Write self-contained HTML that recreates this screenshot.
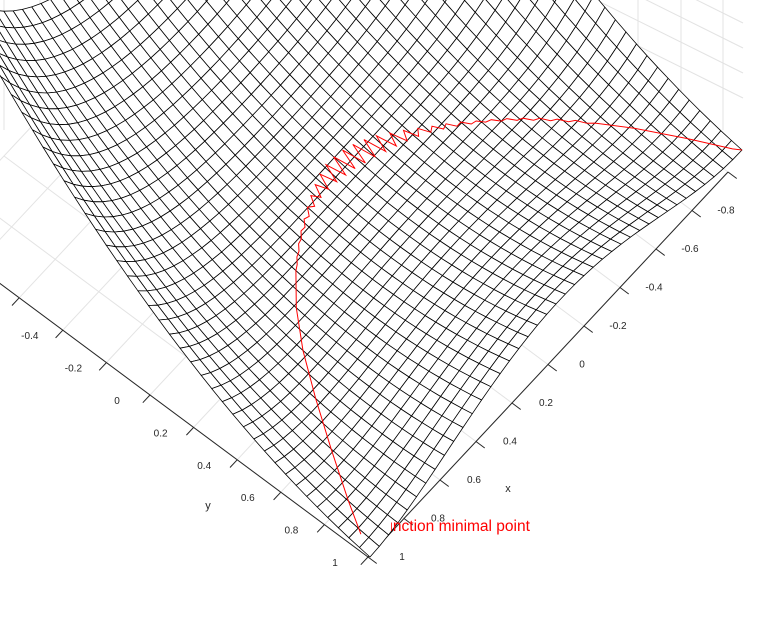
<!DOCTYPE html>
<html><head><meta charset="utf-8"><style>
html,body{margin:0;padding:0;background:#fff;}
svg{display:block;font-family:"Liberation Sans",sans-serif;}
</style></head><body>
<svg id="chart" width="757" height="617" viewBox="0 0 757 617" xmlns="http://www.w3.org/2000/svg">
<defs><clipPath id="txtclip"><rect x="391" y="500" width="300" height="50"/></clipPath></defs>
<g id="bg"></g>
<g id="axes"></g>
<g id="mesh"></g>
<text x="380" y="531" font-size="15.5" fill="#ff0000" clip-path="url(#txtclip)">function minimal point</text>
<g id="pathg"></g>
</svg>
<script>
// ---- data ----
const gridStep = 0.05;
const xTicks = [-1, -0.8, -0.6, -0.4, -0.2, 0, 0.2, 0.4, 0.6, 0.8, 1];
const xTickLabels = ["-1", "-0.8", "-0.6", "-0.4", "-0.2", "0", "0.2", "0.4", "0.6", "0.8", "1"];
const yTicks = [-1, -0.8, -0.6, -0.4, -0.2, 0, 0.2, 0.4, 0.6, 0.8, 1];
const yTickLabels = ["-1", "-0.8", "-0.6", "-0.4", "-0.2", "0", "0.2", "0.4", "0.6", "0.8", "1"];
// descent path: valley parameter t (x = t, y = t^2 + d)
const pathT = [-1.00,-0.98,-0.90,-0.80,-0.72,
 -0.70,-0.68,-0.66,-0.64,-0.62,-0.60,-0.58,-0.56,-0.54,-0.52,-0.50,-0.48,-0.46,-0.44,-0.42,-0.40,
 -0.38,-0.36,-0.34,-0.32,-0.30,-0.28,-0.26,-0.24,-0.22,-0.20,-0.18,-0.16,-0.14,-0.12,-0.10,-0.08,
 -0.06,-0.04,-0.02,0.00,0.02,0.04,0.06,0.08,0.10,0.12,0.14,0.16,0.18,0.20,0.22,0.24,0.26,0.28,
 0.30,0.32,0.34,0.36,0.38,0.40,0.50,0.60,0.70,0.80,0.90,0.96];
const pathD = [0,0.012,0.02,0.025,0.032,
 0.040,0.030,0.042,0.032,0.044,0.034,0.046,0.036,0.048,0.038,0.050,0.040,0.050,0.040,0.052,0.036,
 0.052,0.032,0.052,0.028,0.052,0.020,0.052,0.008,0.052,-0.004,0.052,-0.018,0.050,-0.030,0.046,-0.040,
 0.040,-0.048,0.030,-0.054,0.020,-0.056,0.010,-0.054,0.000,-0.050,-0.010,-0.046,-0.018,-0.042,-0.024,-0.040,-0.028,-0.040,
 -0.032,-0.040,-0.034,-0.040,-0.036,-0.040,-0.040,-0.030,-0.012,0,0,0];

// ---- projection ----
const NS = "http://www.w3.org/2000/svg";
function f(x, y) { return 100 * (y - x * x) * (y - x * x) + (1 - x) * (1 - x); }
const O = [345, 167.5], EX = [-186, 202.5], EY = [211, 187], KZ = 0.5;
function P(x, y, z) { return [O[0] + x * EX[0] + y * EY[0], O[1] + x * EX[1] + y * EY[1] - KZ * z]; }
const C = [368, 557], AX = [-180, 192.5], AY = [218, 162];
function A(x, y) { return [C[0] + (x - 1) * AX[0] + (y - 1) * AY[0], C[1] + (x - 1) * AX[1] + (y - 1) * AY[1]]; }

function el(tag, attrs, parent) {
  const e = document.createElementNS(NS, tag);
  for (const k in attrs) e.setAttribute(k, attrs[k]);
  parent.appendChild(e);
  return e;
}

// ---- background grid ----
const bg = document.getElementById('bg');
yTicks.forEach(v => {
  const a = A(1, v), b = A(-1, v);
  const l = el('line', {x1: a[0], y1: a[1], x2: b[0], y2: b[1], stroke: '#e3e3e3', 'stroke-width': 1}, bg);
  
  
});
xTicks.forEach(v => {
  const a = A(v, 1), b = A(v, -1);
  const l = el('line', {x1: a[0], y1: a[1], x2: b[0], y2: b[1], stroke: '#e3e3e3', 'stroke-width': 1}, bg);
  
  
});
[[638, 0, 638, 110], [681, 0, 681, 125], [723, 0, 723, 130], [4, 0, 4, 130], [40, 0, 40, 130],
 [560, -68, 743, 23], [560, -43, 743, 48], [560, -18, 743, 73], [560, 7, 743, 98]].forEach(s => {
  const l = el('line', {x1: s[0], y1: s[1], x2: s[2], y2: s[3], stroke: '#e3e3e3', 'stroke-width': 1}, bg);
  
  
});

// ---- axes ----
const ax = document.getElementById('axes');
(function () {
  let a = A(1, 1), b = A(-1, 1);
  let l = el('line', {x1: a[0], y1: a[1], x2: b[0], y2: b[1], stroke: '#262626', 'stroke-width': 1}, ax);
  
  
  b = A(1, -1);
  l = el('line', {x1: a[0], y1: a[1], x2: b[0], y2: b[1], stroke: '#262626', 'stroke-width': 1}, ax);
  
  
})();
xTicks.forEach((v, i) => {
  const p = A(v, 1);
  const t = el('line', {x1: p[0], y1: p[1], x2: p[0] + 0.04 * AY[0], y2: p[1] + 0.04 * AY[1], stroke: '#262626', 'stroke-width': 1}, ax);
  
  
  const tx = el('text', {x: p[0] + 34, y: p[1] + 3, 'font-size': 10, fill: '#262626', 'text-anchor': 'middle'}, ax);
  tx.textContent = xTickLabels[i];
  
  
});
yTicks.forEach((v, i) => {
  const p = A(1, v);
  const t = el('line', {x1: p[0], y1: p[1], x2: p[0] + 0.04 * AX[0], y2: p[1] + 0.04 * AX[1], stroke: '#262626', 'stroke-width': 1}, ax);
  
  
  const tx = el('text', {x: p[0] - 33, y: p[1] + 9, 'font-size': 10, fill: '#262626', 'text-anchor': 'middle'}, ax);
  tx.textContent = yTickLabels[i];
  
  
});
(function () {
  let t = el('text', {x: 508, y: 492, 'font-size': 11, fill: '#262626', 'text-anchor': 'middle'}, ax);
  t.textContent = 'x';
  
  
  t = el('text', {x: 208, y: 509, 'font-size': 11, fill: '#262626', 'text-anchor': 'middle'}, ax);
  t.textContent = 'y';
  
  
})();

// ---- mesh ----
const mesh = document.getElementById('mesh');
const N = Math.round(2 / gridStep);
const quads = [];
for (let i = 0; i < N; i++) for (let j = 0; j < N; j++) {
  const x0 = -1 + i * gridStep, x1 = x0 + gridStep, y0 = -1 + j * gridStep, y1 = y0 + gridStep;
  quads.push({d: x0 + y0, pts: [P(x0, y0, f(x0, y0)), P(x1, y0, f(x1, y0)), P(x1, y1, f(x1, y1)), P(x0, y1, f(x0, y1))]});
}
quads.sort((a, b) => a.d - b.d);
quads.forEach(q => {
  const pg = el('polygon', {points: q.pts.map(p => p[0].toFixed(1) + ',' + p[1].toFixed(1)).join(' '), fill: '#fff', stroke: '#000', 'stroke-width': 0.8, 'stroke-linejoin': 'round'}, mesh);
  
  
});

// ---- path ----
const pg = document.getElementById('pathg');
const pp = pathT.map((t, i) => { const x = t, y = t * t + pathD[i]; return P(x, y, f(x, y)); });
const pl = el('polyline', {points: pp.map(p => p[0].toFixed(1) + ',' + p[1].toFixed(1)).join(' '), fill: 'none', stroke: '#ff0000', 'stroke-width': 1}, pg);


</script>
</body></html>
